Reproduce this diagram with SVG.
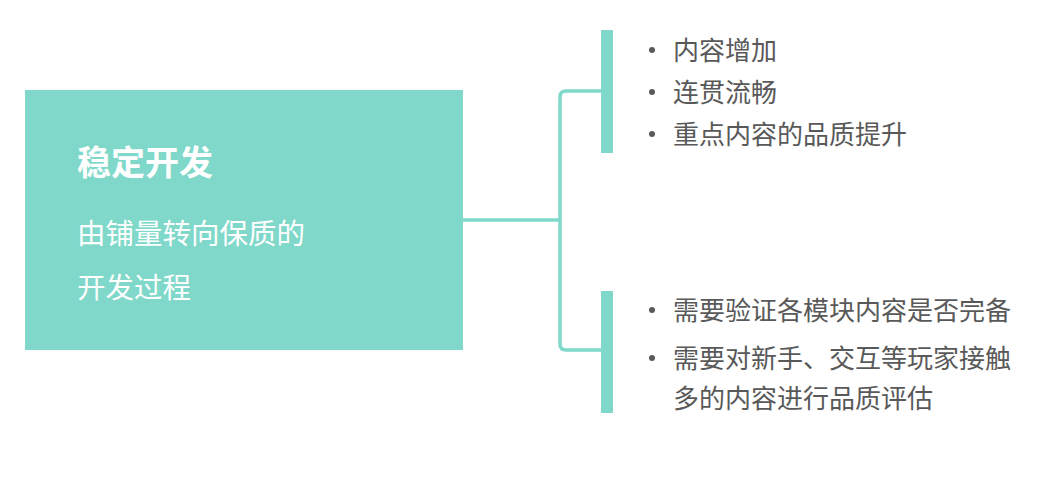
<svg xmlns="http://www.w3.org/2000/svg" width="1052" height="482" viewBox="0 0 1052 482">
<style>
.t{font-family:"Noto Sans CJK SC","Liberation Sans",sans-serif;font-size:26px;fill:#595959}
.w{font-family:"Noto Sans CJK SC","Liberation Sans",sans-serif;fill:#ffffff}
.bar{fill:#7fd8c9}
.ln{fill:none;stroke:#7fd8c9;stroke-width:3.5}
</style>
<rect width="1052" height="482" fill="#ffffff"/>
<g id="main">
<rect class="bar" x="25" y="90" width="438" height="260"/>
<text class="w" x="77" y="175" font-size="34" font-weight="bold">稳定开发</text>
<text class="w" x="77" y="244" font-size="28.5">由铺量转向保质的</text>
<text class="w" x="77" y="298" font-size="28.5">开发过程</text>
</g>
<g id="connectors">
<path class="ln" d="M463 220 H560"/>
<path class="ln" d="M601 91 H566 Q560 91 560 97 V344 Q560 350 566 350 H601"/>
</g>
<g id="top">
<rect class="bar" x="601" y="30" width="12" height="123"/>
<circle cx="652" cy="50" r="3" fill="#595959"/>
<circle cx="652" cy="92" r="3" fill="#595959"/>
<circle cx="652" cy="134" r="3" fill="#595959"/>
<text class="t" x="673" y="60">内容增加</text>
<text class="t" x="673" y="102">连贯流畅</text>
<text class="t" x="673" y="144">重点内容的品质提升</text>
</g>
<g id="bottom">
<rect class="bar" x="601" y="291" width="12" height="122"/>
<circle cx="652" cy="310" r="3" fill="#595959"/>
<circle cx="652" cy="358" r="3" fill="#595959"/>
<text class="t" x="673" y="320">需要验证各模块内容是否完备</text>
<text class="t" x="673" y="368">需要对新手、交互等玩家接触</text>
<text class="t" x="673" y="408">多的内容进行品质评估</text>
</g>
</svg>
